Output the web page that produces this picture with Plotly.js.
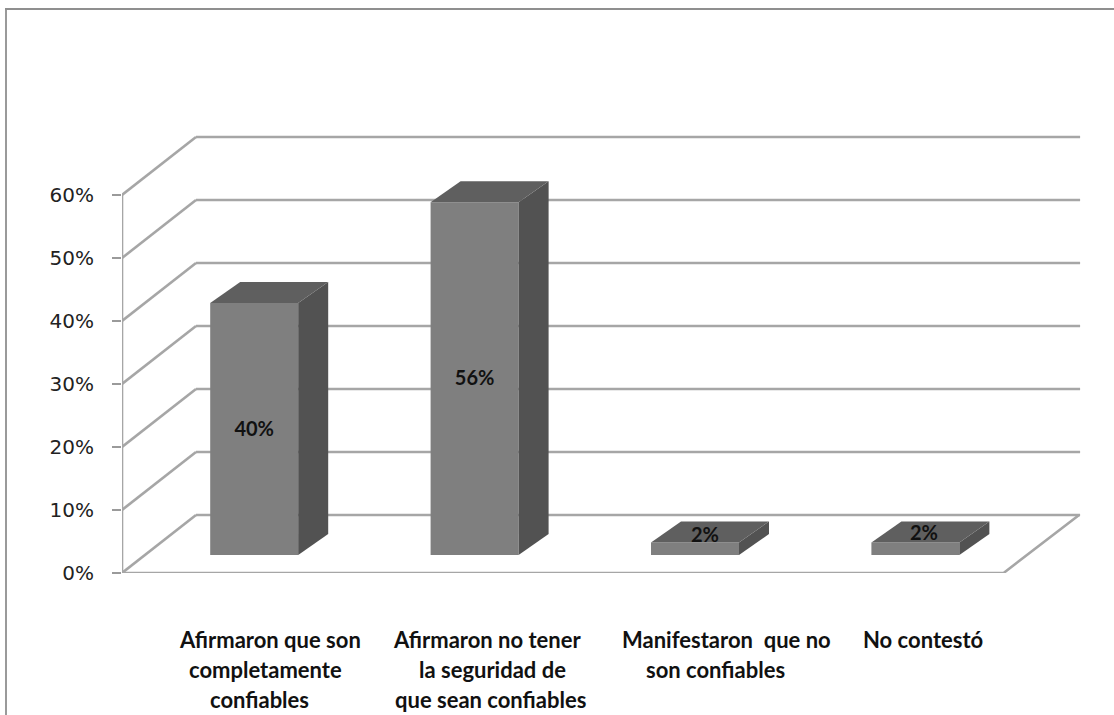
<!DOCTYPE html>
<html>
<head>
<meta charset="utf-8">
<script src="https://cdn.plot.ly/plotly-3.0.1.min.js"></script>
<style>html,body{margin:0;padding:0;background:#fff;overflow:hidden}</style>
</head>
<body>
<div id="chart" style="width:1114px;height:715px"></div>
<script>
// Survey answers, in percent
const categories = [0, 1, 2, 3];
const values = [40, 56, 2, 2];
const valueLabels = ['40%', '56%', '2%', '2%'];
const tickValues = [0, 10, 20, 30, 40, 50, 60];
const categoryLines = [
  ['Afirmaron que son', 'completamente', 'confiables'],
  ['Afirmaron no tener', 'la seguridad de', 'que sean confiables'],
  ['Manifestaron  que no', 'son confiables'],
  ['No contestó']
];

// Plot box and axis scales, in CSS pixels
const W = 1114, H = 715;
const plotLeft = 122, plotRight = 1100, plotTop = 130, plotBottom = 573;
const pxPerCat = 220.4, pxPerPct = 6.3;

// Oblique offsets of the 3D look, expressed in axis units
const wallDx = 74 / pxPerCat, wallDy = 58 / pxPerPct;
const floorDx = 75.5 / pxPerCat, backLineEnd = 76.5 / pxPerCat;
const barDx = 30 / pxPerCat, barDy = 21 / pxPerPct;
const baseDx = 22 / pxPerCat, baseDy = 18 / pxPerPct;
const barWidth = 88 / pxPerCat;
const xStart = -0.5, xEnd = 3.5;
const xMax = xStart + (plotRight - plotLeft) / pxPerCat;
const yMax = (plotBottom - plotTop) / pxPerPct;
const lineColor = '#a6a6a6';
const lineWidth = 2.6;

// Label placement relative to each bar's centre
const labelShiftX = [0, 0, 10 / pxPerCat, 8.5 / pxPerCat];
const labelShiftY = [-2 / pxPerPct, -1 / pxPerPct, -5 / pxPerPct, -3 / pxPerPct];
const labelOnTop = [false, false, true, true];

// Caption line centres: the lines are hand-broken, so each has its own
const labelTextX = [[269.5, 265.5, 259.5], [487, 492, 490], [726, 715.5], [923]];
const labelTextY = [639, 669, 699];

const fronts = categories.map(c => c + baseDx);

// Filled polygon helper for the side and top faces
function face(xs, ys, color) {
  return {type: 'scatter', mode: 'lines', x: xs, y: ys, fill: 'toself', fillcolor: color,
          line: {width: 0, color: color}, hoverinfo: 'skip', showlegend: false};
}

const traces = [];

// Walls' left and floor outline
const outline = {x: [], y: []};
tickValues.forEach(v => {
  outline.x.push(xStart, xStart + wallDx, null);
  outline.y.push(v, v + wallDy, null);
});
outline.x.push(xStart, xStart, null, xStart, xEnd, xEnd + floorDx);
outline.y.push(0, tickValues[tickValues.length - 1], null, 0, 0, wallDy);
traces.push({type: 'scatter', mode: 'lines', x: outline.x, y: outline.y, cliponaxis: false,
             connectgaps: false, line: {color: lineColor, width: lineWidth}, hoverinfo: 'skip', showlegend: false});

// Front faces of the bars
traces.push({type: 'bar', x: fronts, y: values, base: values.map(() => baseDy), width: barWidth,
             marker: {color: '#7f7f7f', line: {width: 0}}, hoverinfo: 'skip', showlegend: false});

// Side and top faces
fronts.forEach((f, i) => {
  const l = f - barWidth / 2, r = f + barWidth / 2;
  const b = baseDy, t = baseDy + values[i];
  traces.push(face([r, r + barDx, r + barDx, r, r], [b, b + barDy, t + barDy, t, b], '#525252'));
  traces.push(face([l, l + barDx, r + barDx, r, l], [t, t + barDy, t + barDy, t, t], '#5f5f5f'));
});

// Value labels
traces.push({type: 'scatter', mode: 'text',
  x: fronts.map((f, i) => f + labelShiftX[i]),
  y: values.map((v, i) => baseDy + (labelOnTop[i] ? v + barDy / 2 : v / 2) + labelShiftY[i]),
  text: valueLabels, textposition: 'middle center', cliponaxis: false,
  textfont: {family: 'Lato, sans-serif', size: 20, color: '#111', weight: 700},
  hoverinfo: 'skip', showlegend: false});

// Back wall lines sit behind the bars
const shapes = tickValues.map(v => ({
  type: 'line', layer: 'below', xref: 'x', yref: 'y',
  x0: xStart + wallDx, x1: xEnd + backLineEnd, y0: v + wallDy, y1: v + wallDy,
  line: {color: lineColor, width: lineWidth}
}));

// Outer chart border, open on the right and bottom
const px = x => (x - plotLeft) / (plotRight - plotLeft);
const py = y => (plotBottom - y) / (plotBottom - plotTop);
shapes.push({type: 'line', xref: 'paper', yref: 'paper', x0: px(6), x1: px(6), y0: py(9), y1: py(H),
             line: {color: '#9a9a9a', width: 2}});
shapes.push({type: 'line', xref: 'paper', yref: 'paper', x0: px(5), x1: px(W), y0: py(9), y1: py(9),
             line: {color: '#8f8f8f', width: 2}});

// Category captions, one annotation per line
const annotations = [];
categoryLines.forEach((lines, i) => lines.forEach((text, j) => annotations.push({
  xref: 'paper', yref: 'paper', x: px(labelTextX[i][j]), y: py(labelTextY[j]),
  xanchor: 'center', yanchor: 'middle', showarrow: false, text: text,
  font: {family: 'Lato, sans-serif', size: 22, color: '#111', weight: 700}
})));

const layout = {
  width: W, height: H,
  margin: {l: plotLeft, r: W - plotRight, t: plotTop, b: H - plotBottom, pad: 0},
  paper_bgcolor: '#fff', plot_bgcolor: '#fff',
  showlegend: false, barmode: 'overlay', hovermode: false,
  xaxis: {range: [xStart, xMax], showgrid: false, zeroline: false, showticklabels: false, ticks: '', showline: false},
  yaxis: {range: [0, yMax], tickvals: tickValues, ticktext: tickValues.map(v => v + '%'),
          showgrid: false, zeroline: false, showline: false, ticks: 'outside', ticklen: 9, tickwidth: 2,
          tickcolor: '#9a9a9a', ticklabelstandoff: 14,
          tickfont: {family: 'DejaVu Sans, sans-serif', size: 20, color: '#222'}},
  shapes: shapes,
  annotations: annotations
};

Plotly.newPlot('chart', traces, layout, {displayModeBar: false, staticPlot: true});
</script>
</body>
</html>
